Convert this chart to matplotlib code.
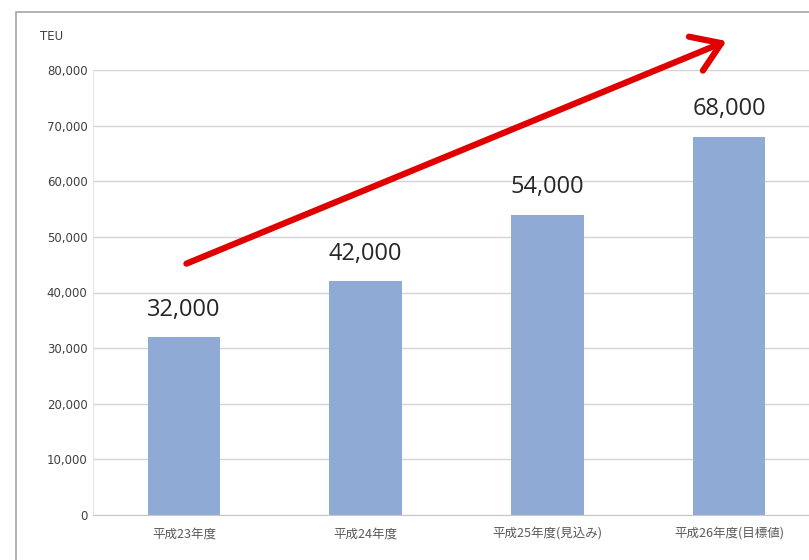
import matplotlib
matplotlib.use("Agg")
import matplotlib.pyplot as plt
from matplotlib.patches import Rectangle, FancyArrowPatch

plt.rcParams['font.family'] = ['Noto Sans CJK JP', 'DejaVu Sans']

categories = ["平成23年度", "平成24年度", "平成25年度(見込み)", "平成26年度(目標値)"]
values = [32000, 42000, 54000, 68000]
value_labels = ["32,000", "42,000", "54,000", "68,000"]
yticks = [0, 10000, 20000, 30000, 40000, 50000, 60000, 70000, 80000]
ytick_labels = ["0", "10,000", "20,000", "30,000", "40,000", "50,000", "60,000", "70,000", "80,000"]
arrow_start = (0.0, 45000)
arrow_end = (3.0, 85400)

fig = plt.figure(figsize=(8.09, 5.60), dpi=100)
fig.patch.set_facecolor('white')

# outer chart border
fig.add_artist(Rectangle((16/809, -0.05), 1.0, (560-12)/560 + 0.05,
                         transform=fig.transFigure, fill=False,
                         edgecolor='#A6A6A6', lw=1.2))

ax = fig.add_axes([93/809, 45/560, 727/809, 445/560])
x = list(range(len(categories)))
ax.bar(x, values, width=0.40, color='#8EAAD5', zorder=2)
ax.set_xlim(-0.5, len(categories) - 0.5)
ax.set_ylim(0, 80000)
ax.set_yticks(yticks)
ax.set_yticklabels(ytick_labels, fontsize=8.5, color='#404040', family=['DejaVu Sans'])
ax.set_xticks(x)
ax.set_xticklabels(categories, fontsize=9, color='#595959')
ax.tick_params(axis='y', length=0, pad=4)
ax.tick_params(axis='x', length=0, pad=9)
ax.grid(axis='y', color='#D4D4D4', lw=1.0, zorder=0)
for s in ['top', 'right']:
    ax.spines[s].set_visible(False)
ax.spines['left'].set_color('#E6E6E6')
ax.spines['bottom'].set_color('#C8C8C8')

for xi, v, lab in zip(x, values, value_labels):
    ax.annotate(lab, (xi, v), xytext=(0, 11), textcoords='offset points',
                ha='center', va='bottom', fontsize=17, color='#262626',
                family=['Open Sans', 'DejaVu Sans'])

ax.text(-0.073, 1.075, "TEU", transform=ax.transAxes, fontsize=8.5,
        color='#404040', ha='left', va='center', family=['DejaVu Sans'])

arrow = FancyArrowPatch(arrow_start, arrow_end, transform=ax.transData,
                        arrowstyle='->,head_length=9,head_width=6',
                        color='#E00000', lw=4.5, clip_on=False,
                        mutation_scale=2.2, zorder=5)
ax.add_artist(arrow)

fig.savefig("out.png", dpi=100)
